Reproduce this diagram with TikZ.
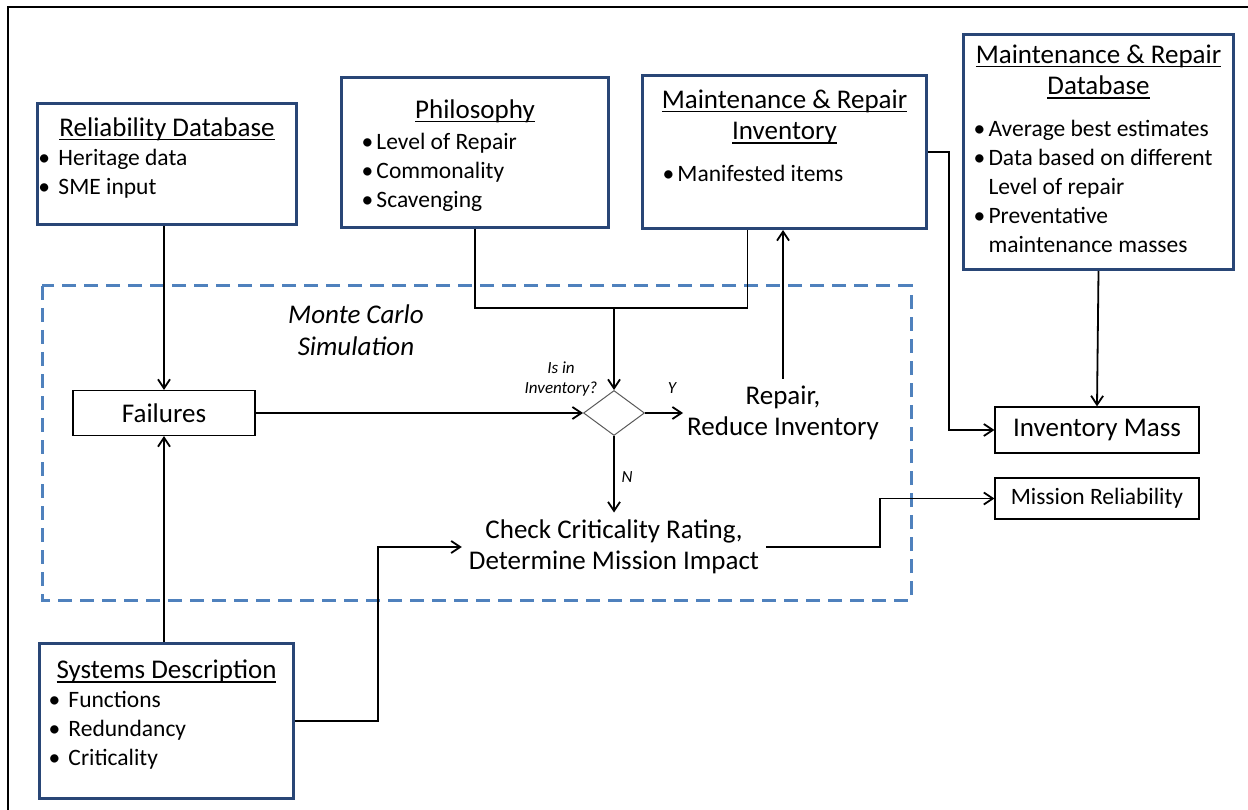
\documentclass[tikz,border=0pt]{standalone}
\usepackage{fontspec}
\setmainfont{Carlito}
\usetikzlibrary{shapes.geometric,arrows.meta}

\definecolor{boxblue}{RGB}{41,70,118}
\definecolor{mcblue}{RGB}{79,129,189}
\newcommand{\ttl}[1]{\leavevmode\setbox0=\hbox{#1}\rlap{\rule[-4pt]{\wd0}{1.5pt}}\box0}
\newcommand{\bul}[1][20pt]{\makebox[#1][l]{\textbullet}}
\newcommand{\ttlfont}{\fontsize{27}{31.5}\selectfont}
\newcommand{\itmfont}{\fontsize{23.5}{29}\selectfont}
\newcommand{\lblfont}{\fontsize{17}{20.5}\selectfont}

\begin{document}
\begin{tikzpicture}[x=1pt,y=-1pt,
    >={Straight Barb[length=9pt,width=12pt]},
    dbbox/.style={draw=boxblue,line width=3pt,inner sep=0pt,anchor=north west,fill=white},
    simplebox/.style={draw,line width=1.2pt,inner sep=0pt,font=\ttlfont},
    txtnode/.style={inner sep=7pt,align=center,font=\ttlfont},
    lbl/.style={font=\lblfont\itshape,align=center},
    conn/.style={->,line width=1.8pt}]
  \useasboundingbox (0,0) rectangle (1248,810);
  \draw[line width=2.5pt] (8,830) -- (8,7) -- (1270,7);

  % monte carlo loop
  \draw[mcblue,line width=3pt,dash pattern=on 14pt off 8pt] (42,286) rectangle (911,600);
  \node[font=\ttlfont\itshape,align=center] (mclabel) at (356,330) {Monte Carlo\\Simulation};

  % inputs
  \node[dbbox] (reldb) at (36,102) {\parbox[t][121pt][t]{259pt}{\centering\ttlfont\rule{0pt}{33pt}\ttl{Reliability Database}\par
    \raggedright\itmfont\hspace*{1pt}\bul Heritage data\\
    \hspace*{1pt}\bul SME input\par}};
  \node[dbbox] (phil) at (340,76) {\parbox[t][150pt][t]{267pt}{\centering\ttlfont\rule{0pt}{41pt}\ttl{Philosophy}\par
    \vspace{2pt}\raggedright\itmfont\hspace*{20pt}\bul[15pt]Level of Repair\\
    \hspace*{20pt}\bul[15pt]Commonality\\
    \hspace*{20pt}\bul[15pt]Scavenging\par}};
  \node[dbbox] (mrinv) at (641,74) {\parbox[t][153pt][t]{284pt}{\centering\ttlfont\rule{0pt}{33pt}\ttl{Maintenance \& Repair}\\\ttl{Inventory}\par
    \vspace{13pt}\raggedright\itmfont\hspace*{20pt}\bul[15pt]Manifested items\par}};
  \node[dbbox] (mrdb) at (962,33) {\parbox[t][235pt][t]{270pt}{\centering\ttlfont\rule{0pt}{29pt}\ttl{Maintenance \& Repair}\\\ttl{Database}\par
    \vspace{13pt}\raggedright\itmfont\hspace*{10pt}\bul[15pt]Average best estimates\\
    \hspace*{10pt}\bul[15pt]Data based on different\\
    \hspace*{25pt}Level of repair\\
    \hspace*{10pt}\bul[15pt]Preventative\\
    \hspace*{25pt}maintenance masses\par}};
  \node[dbbox] (sysdesc) at (38,642) {\parbox[t][155pt][t]{254pt}{\centering\ttlfont\rule{0pt}{35pt}\ttl{Systems Description}\par
    \raggedright\itmfont\hspace*{9pt}\bul Functions\\
    \hspace*{9pt}\bul Redundancy\\
    \hspace*{9pt}\bul Criticality\par}};

  % simulation steps
  \node[simplebox,minimum width=182pt,minimum height=45pt] (failures) at (164,413) {Failures};
  \node[diamond,draw=black!65,line width=1pt,minimum width=61pt,minimum height=45pt,inner sep=0pt] (invq) at (614,413) {};
  \node[lbl] (invqlabel) at (561,379) {Is in\\Inventory?};
  \node[lbl] (ylabel) at (672,388) {Y};
  \node[lbl] (nlabel) at (627,477) {N};
  \node[txtnode,inner xsep=4pt] (repair) at (783,413) {Repair,\\Reduce Inventory};
  \node[txtnode] (check) at (614,547) {Check Criticality Rating,\\Determine Mission Impact};

  % outputs
  \node[simplebox,minimum width=204pt,minimum height=46pt] (invmass) at (1097,430) {Inventory Mass};
  \node[simplebox,minimum width=204pt,minimum height=41pt,font=\itmfont] (missrel) at (1097,498.5) {Mission Reliability};

  \coordinate (merge) at (614,308);

  \draw[conn] (reldb.south -| failures.north) -- (failures.north);
  \draw[conn] (sysdesc.north -| failures.south) -- (failures.south);
  \draw[conn] (failures.east) -- (invq.west);
  \draw[line width=1.8pt] (phil.south) |- (merge) -| ([xshift=-37pt]mrinv.south);
  \draw[conn] (merge) -- (invq.north);
  \draw[conn] (invq.east) -- (repair.west);
  \draw[conn] (repair.north) -- (repair.north |- mrinv.south);
  \draw[conn] (invq.south) -- (check.north);
  \draw[conn] (sysdesc.east) -- ++(83,0) |- (check.west);
  \draw[conn] (check.east) -- ++(114,0) |- (missrel.west);
  \draw[conn] (mrinv.east) -- ++(21,0) |- (invmass.west);
  \draw[conn] (mrdb.south) -- (invmass.north);
\end{tikzpicture}
\end{document}
